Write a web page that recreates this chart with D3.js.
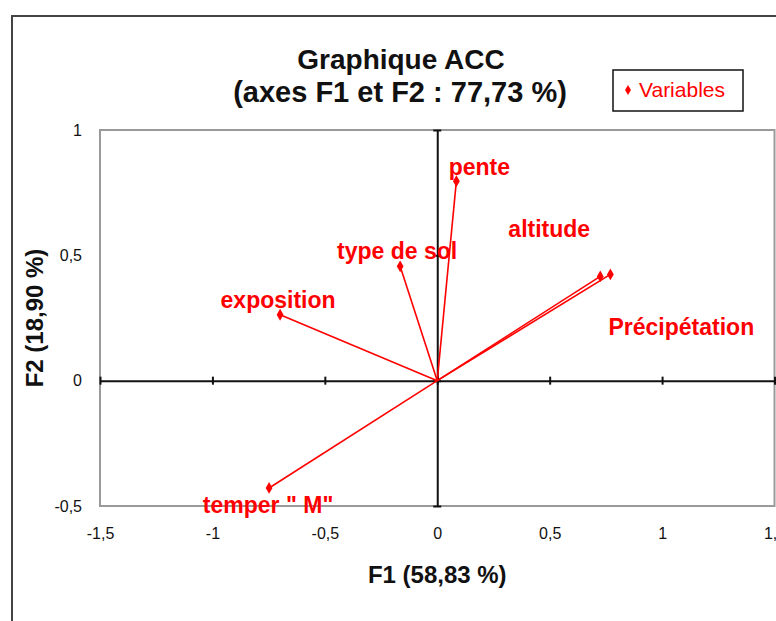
<!DOCTYPE html>
<html><head><meta charset="utf-8">
<script src="https://cdn.jsdelivr.net/npm/d3@7"></script>
<style>
html,body{margin:0;padding:0;background:#fff;}
svg{display:block;font-family:Arial,"Liberation Sans",sans-serif;}
</style></head>
<body>
<svg id="chart" width="776" height="621"></svg>
<script>
// ---- data ----
const variables = ["pente", "type de sol", "exposition", "temper \" M\"", "altitude", "Précipétation"];
const f1Values = [0.085, -0.165, -0.699, -0.748, 0.725, 0.770];
const f2Values = [0.796, 0.456, 0.263, -0.428, 0.416, 0.424];
const xTicks = [-1.5, -1, -0.5, 0, 0.5, 1, 1.5];
const yTicks = [-0.5, 0, 0.5, 1];
const titleLines = ["Graphique ACC", "(axes F1 et F2 : 77,73 %)"];
const xTitle = "F1 (58,83 %)";
const yTitle = "F2 (18,90 %)";
const legendLabel = "Variables";

// ---- layout (label offsets in px from each point) ----
const labelOffsets = [[23, -6], [-3, -7], [-2, -7], [-1, 25], [-51, -39], [71, 61]];

const svg = d3.select("#chart");
const red = "#ff0000";
const fmt = d => String(d).replace(".", ",");

const x = d3.scaleLinear().domain([-1.5, 1.5]).range([100, 774.5]);
const y = d3.scaleLinear().domain([-0.5, 1]).range([506, 130]);

// outer chart border
svg.append("rect").attr("x", 12).attr("y", 16).attr("width", 800).attr("height", 640)
  .attr("fill", "none").attr("stroke", "#444").attr("stroke-width", 2);

// plot area border
svg.append("rect").attr("x", x(-1.5)).attr("y", y(1))
  .attr("width", x(1.5) - x(-1.5)).attr("height", y(-0.5) - y(1))
  .attr("fill", "none").attr("stroke", "#9a9a9a").attr("stroke-width", 2);

// center horizontal axis (ticks crossing)
const gx = svg.append("g").attr("transform", `translate(0,${y(0)})`)
  .call(d3.axisBottom(x).tickValues(xTicks).tickFormat("").tickSizeOuter(0));
gx.select(".domain").attr("stroke", "#111").attr("stroke-width", 2);
gx.selectAll(".tick line").attr("y1", -4).attr("y2", 4).attr("stroke", "#111").attr("stroke-width", 2);

// center vertical axis
const gy = svg.append("g").attr("transform", `translate(${x(0)},0)`)
  .call(d3.axisLeft(y).tickValues(yTicks).tickFormat("").tickSizeOuter(0));
gy.select(".domain").attr("stroke", "#111").attr("stroke-width", 2);
gy.selectAll(".tick line").attr("x1", -4).attr("x2", 4).attr("stroke", "#111").attr("stroke-width", 2);

// tick labels: x at bottom, y at left
const gxl = svg.append("g").attr("transform", `translate(0,${y(-0.5) + 19})`)
  .call(d3.axisBottom(x).tickValues(xTicks).tickFormat(fmt).tickSize(0));
gxl.select(".domain").remove();
gxl.selectAll("text").attr("font-size", 16).attr("font-family", "Arial, 'Liberation Sans', sans-serif").attr("fill", "#111").attr("dy", "0.71em");

const gyl = svg.append("g").attr("transform", `translate(${x(-1.5) - 18},0)`)
  .call(d3.axisLeft(y).tickValues(yTicks).tickFormat(fmt).tickSize(0));
gyl.select(".domain").remove();
gyl.selectAll("text").attr("font-size", 16).attr("font-family", "Arial, 'Liberation Sans', sans-serif").attr("fill", "#111").attr("x", 0);

// vectors
const pts = variables.map((v, i) => ({name: v, f1: f1Values[i], f2: f2Values[i], off: labelOffsets[i]}));
svg.append("g").selectAll("line").data(pts).join("line")
  .attr("x1", x(0)).attr("y1", y(0))
  .attr("x2", d => x(d.f1)).attr("y2", d => y(d.f2))
  .attr("stroke", red).attr("stroke-width", 1.6);
svg.append("g").selectAll("path").data(pts).join("path")
  .attr("transform", d => `translate(${x(d.f1)},${y(d.f2)})`)
  .attr("d", d3.symbol(d3.symbolDiamond, 40))
  .attr("fill", red);
svg.append("g").selectAll("text").data(pts).join("text")
  .attr("x", d => x(d.f1) + d.off[0]).attr("y", d => y(d.f2) + d.off[1])
  .attr("text-anchor", "middle").attr("font-size", 23).attr("font-weight", "bold")
  .attr("fill", red).attr("xml:space", "preserve").style("white-space", "pre").text(d => d.name);

// title
svg.append("text").attr("x", 401).attr("y", 69).attr("text-anchor", "middle")
  .attr("font-size", 28).attr("font-weight", "bold").attr("fill", "#111").text(titleLines[0]);
svg.append("text").attr("x", 400).attr("y", 102).attr("text-anchor", "middle")
  .attr("font-size", 29).attr("font-weight", "bold").attr("fill", "#111").text(titleLines[1]);

// axis titles
svg.append("text").attr("x", (x(-1.5) + x(1.5)) / 2).attr("y", 583).attr("text-anchor", "middle")
  .attr("font-size", 24).attr("font-weight", "bold").attr("fill", "#111").text(xTitle);
svg.append("text").attr("transform", `translate(43,${(y(-0.5) + y(1)) / 2}) rotate(-90)`)
  .attr("text-anchor", "middle").attr("font-size", 24).attr("font-weight", "bold")
  .attr("fill", "#111").text(yTitle);

// legend
const lg = svg.append("g");
lg.append("rect").attr("x", 613).attr("y", 70).attr("width", 130).attr("height", 41)
  .attr("fill", "#fff").attr("stroke", "#111").attr("stroke-width", 1.5);
lg.append("path").attr("transform", "translate(628,90)").attr("d", d3.symbol(d3.symbolDiamond, 30)).attr("fill", red);
lg.append("text").attr("x", 639).attr("y", 97).attr("font-size", 21).attr("fill", red).text(legendLabel);
</script>
</body></html>
